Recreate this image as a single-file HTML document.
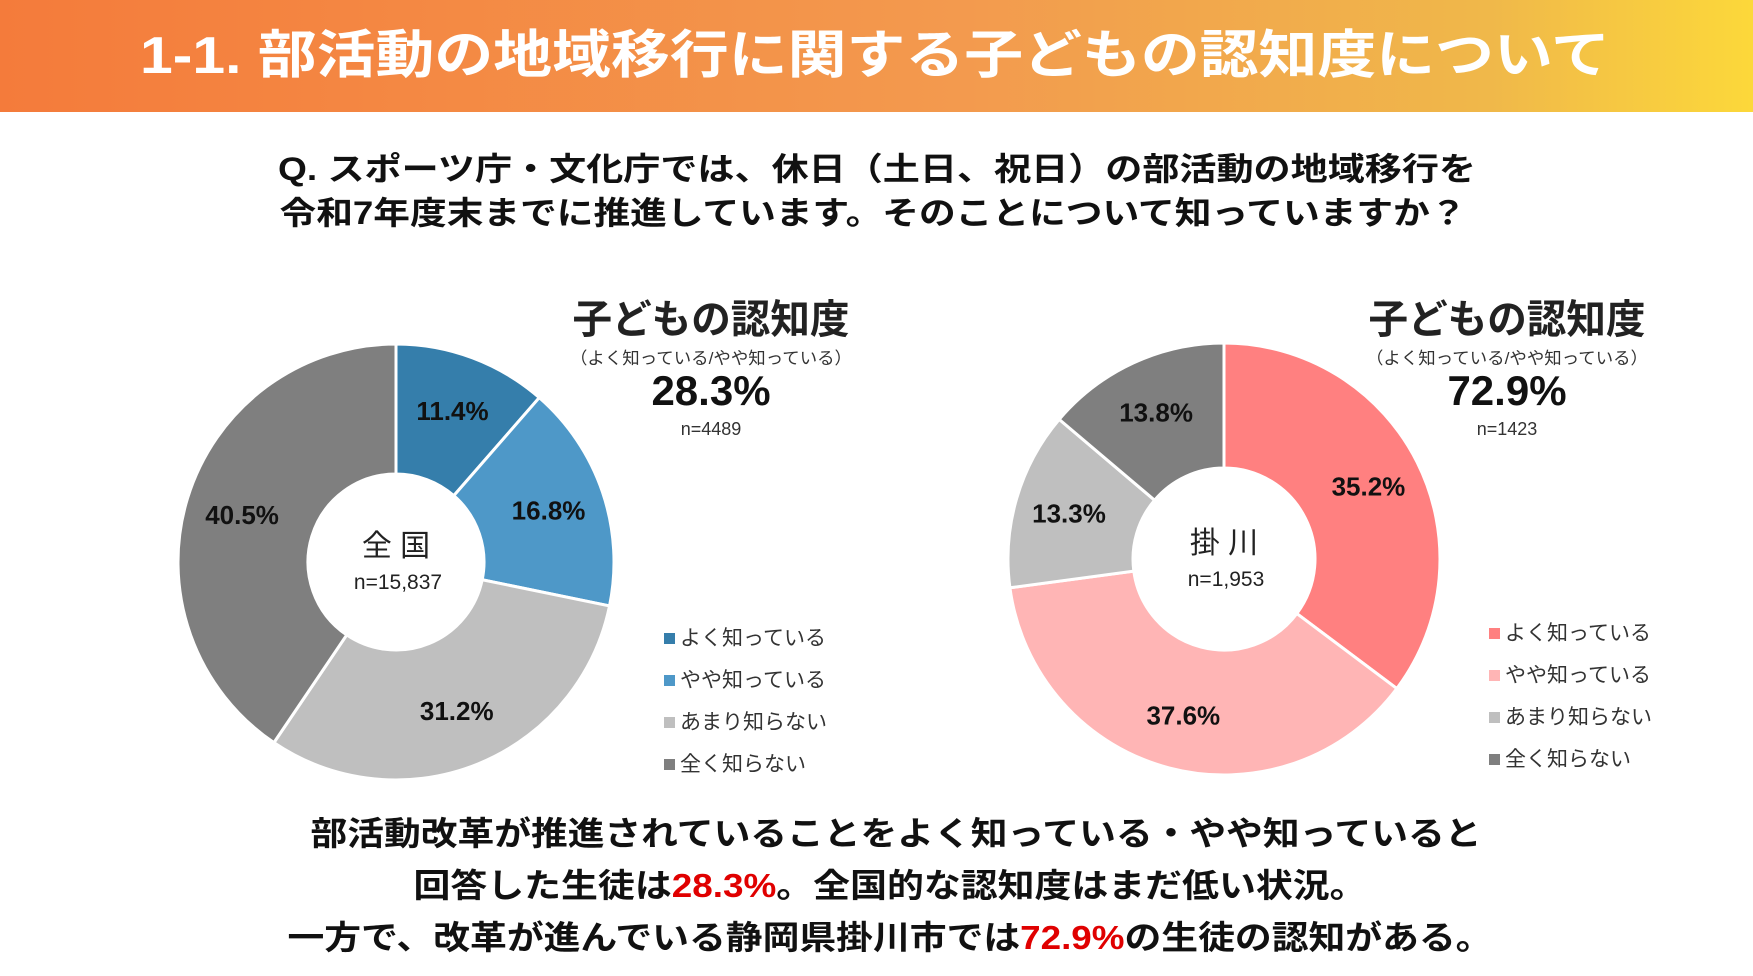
<!DOCTYPE html>
<html><head><meta charset="utf-8"><style>
body{margin:0;width:1753px;height:976px;overflow:hidden;background:#fff;font-family:"Liberation Sans","Noto Sans CJK JP",sans-serif}
svg{display:block}
</style></head><body>
<svg width="1753" height="976">
<defs><linearGradient id="hg" x1="0" x2="1" y1="0" y2="0"><stop offset="0" stop-color="#F47B3B"/><stop offset="0.55" stop-color="#F39A4E"/><stop offset="0.85" stop-color="#F0B84A"/><stop offset="1" stop-color="#FCD83A"/></linearGradient></defs>
<rect x="0" y="0" width="1753" height="112" fill="url(#hg)"/>
<text x="875" y="73" text-anchor="middle" font-size="52" font-weight="bold" fill="#fff" textLength="1470" lengthAdjust="spacingAndGlyphs">1-1. 部活動の地域移行に関する子どもの認知度について</text>
<g font-size="32" font-weight="bold" fill="#111" text-anchor="middle">
<text x="877" y="180" textLength="1198" lengthAdjust="spacingAndGlyphs">Q.  スポーツ庁・文化庁では、休日（土日、祝日）の部活動の地域移行を</text>
<text x="873" y="224" textLength="1187" lengthAdjust="spacingAndGlyphs">令和7年度末までに推進しています。そのことについて知っていますか？</text>
</g>
<g id="charts"></g>
<g font-size="33" font-weight="bold" fill="#111" text-anchor="middle">
<text x="896" y="845" textLength="1171" lengthAdjust="spacingAndGlyphs">部活動改革が推進されていることをよく知っている・やや知っていると</text>
<text x="890" y="897" textLength="953" lengthAdjust="spacingAndGlyphs">回答した生徒は<tspan fill="#E00000">28.3%</tspan>。全国的な認知度はまだ低い状況。</text>
<text x="890" y="949" textLength="1205" lengthAdjust="spacingAndGlyphs">一方で、改革が進んでいる静岡県掛川市では<tspan fill="#E00000">72.9%</tspan>の生徒の認知がある。</text>
</g>
</svg>
<script>
const categories = ['よく知っている','やや知っている','あまり知らない','全く知らない'];
const nationalValues = [11.4, 16.8, 31.2, 40.5];
const kakegawaValues = [35.2, 37.6, 13.3, 13.8];
const nationalColors = ['#357EAB','#4E98C8','#BFBFBF','#7F7F7F'];
const kakegawaColors = ['#FF8080','#FFB5B5','#BFBFBF','#7F7F7F'];
const summaryValues = ['28.3%','72.9%'];
const summaryN = ['n=4489','n=1423'];
const centerNames = ['全 国','掛 川'];
const centerN = ['n=15,837','n=1,953'];

const NS='http://www.w3.org/2000/svg';
const root=document.getElementById('charts');
function mk(tag,attrs,parent){const e=document.createElementNS(NS,tag);for(const k in attrs)e.setAttribute(k,attrs[k]);(parent||root).appendChild(e);return e;}
function pt(cx,cy,r,a){return [cx+r*Math.sin(a),cy-r*Math.cos(a)];}
function donut(idx,vals,cols,cx,cy,ro,ri,hx,lx,ly){
  const g=mk('g',{});
  
  
  const tot=vals.reduce((a,b)=>a+b,0);let acc=0;
  vals.forEach((v,i)=>{
    const a0=acc/tot*2*Math.PI;acc+=v;const a1=acc/tot*2*Math.PI;
    const large=(a1-a0)>Math.PI?1:0;
    const p0=pt(cx,cy,ro,a0),p1=pt(cx,cy,ro,a1),q1=pt(cx,cy,ri,a1),q0=pt(cx,cy,ri,a0);
    const p=mk('path',{d:`M${p0}A${ro},${ro} 0 ${large} 1 ${p1}L${q1}A${ri},${ri} 0 ${large} 0 ${q0}Z`,fill:cols[i],stroke:'#fff','stroke-width':3},g);
    
    
    const m=pt(cx,cy,(ro+ri)/2+8,(a0+a1)/2);
    const t=mk('text',{x:m[0],y:m[1]+9,'text-anchor':'middle','font-size':26,'font-weight':'bold',fill:'#111'},g);
    t.textContent=v.toFixed(1)+'%';
    
    
  });
  const c1=mk('text',{x:cx,y:cy-6,'text-anchor':'middle','font-size':30,fill:'#222'},g);c1.textContent=centerNames[idx];
  
  
  const c2=mk('text',{x:cx+2,y:cy+27,'text-anchor':'middle','font-size':21,fill:'#222'},g);c2.textContent=centerN[idx];
  
  
  const h=mk('text',{x:hx,y:333,'text-anchor':'middle','font-size':40,'font-weight':'bold',fill:'#222',textLength:277,lengthAdjust:'spacingAndGlyphs'},g);h.textContent='子どもの認知度';
  
  
  const s=mk('text',{x:hx,y:364,'text-anchor':'middle','font-size':17,fill:'#333',textLength:282,lengthAdjust:'spacingAndGlyphs'},g);s.textContent='（よく知っている/やや知っている）';
  
  
  const pv=mk('text',{x:hx,y:405,'text-anchor':'middle','font-size':42,'font-weight':'bold',fill:'#111'},g);pv.textContent=summaryValues[idx];
  
  
  const nn=mk('text',{x:hx,y:435,'text-anchor':'middle','font-size':18,fill:'#333'},g);nn.textContent=summaryN[idx];
  
  
  categories.forEach((c,i)=>{
    const y=ly+i*42;
    const sq=mk('rect',{x:lx,y:y-5,width:11,height:11,fill:cols[i]},g);
    
    
    const lt=mk('text',{x:lx+16,y:y+7,'font-size':21,fill:'#333'},g);lt.textContent=c;
    
    
  });
}
donut(0,nationalValues,nationalColors,396,562,218,88,711,664,638);
donut(1,kakegawaValues,kakegawaColors,1224,559,216,91,1507,1489,633);
</script>
</body></html>
